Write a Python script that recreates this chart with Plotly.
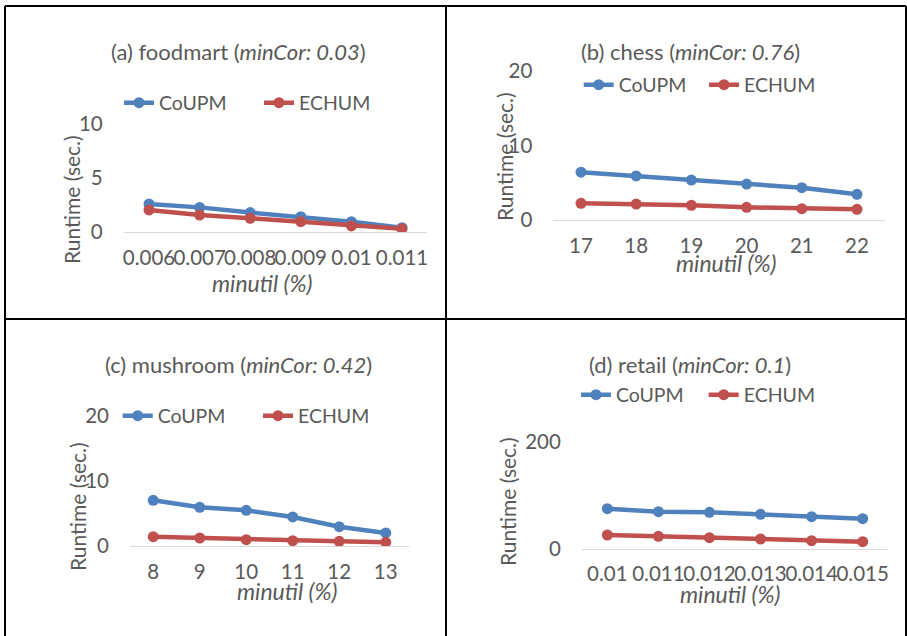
import plotly.graph_objects as go

W, H = 907, 636

# ---------------- data ----------------
cats_a = ["0.006", "0.007", "0.008", "0.009", "0.01", "0.011"]
coupm_a = [2.6, 2.28, 1.8, 1.42, 0.96, 0.4]
echum_a = [2.04, 1.57, 1.27, 0.96, 0.56, 0.31]

cats_b = ["17", "18", "19", "20", "21", "22"]
coupm_b = [6.4, 5.9, 5.35, 4.82, 4.33, 3.44]
echum_b = [2.23, 2.14, 1.96, 1.7, 1.52, 1.43]

cats_c = ["8", "9", "10", "11", "12", "13"]
coupm_c = [7.04, 5.97, 5.51, 4.49, 3.0, 2.04]
echum_c = [1.47, 1.27, 1.01, 0.86, 0.77, 0.61]

cats_d = ["0.01", "0.011", "0.012", "0.013", "0.014", "0.015"]
coupm_d = [75, 69.4, 68.2, 64.5, 60, 56.3]
echum_d = [25.7, 23.2, 20.7, 18.2, 15, 13.1]

titles = [
    "(a) foodmart (<i>minCor: 0.03</i>)",
    "(b) chess (<i>minCor: 0.76</i>)",
    "(c) mushroom (<i>minCor: 0.42</i>)",
    "(d) retail (<i>minCor: 0.1</i>)",
]
y_ranges = [[0, 10], [0, 20], [0, 20], [0, 200]]
y_ticks = [[0, 5, 10], [0, 10, 20], [0, 10, 20], [0, 200]]

BLUE = "#4F81BD"
RED = "#C0504D"
TXT = "#595959"
FONT = "Lato"
TICK_SIZE = 20.5
LEG_SIZE = 19.5
TITLE_SIZE = 22
YT_SIZE = 21
XT_SIZE = 23


def px_x(p):
    return p / W


def px_y(p):
    return 1 - p / H


# panel geometry in pixels: (x0, x1, ytop, ybottom)
panels = [
    (123.7, 427.3, 124, 232),
    (553.4, 884.6, 70.7, 220),
    (130, 409, 415.7, 546.3),
    (581.8, 888.2, 442, 548.7),
]
title_pos = [(238, 52), (690, 52), (238, 364), (690, 364)]
ytitle_pos = [(72, 200), (504, 157), (77, 507), (507, 502)]
xtitle_pos = [(262, 283), (726, 263), (287, 591), (730, 594)]
# (first marker x, y, spacing between entry markers)
legend_pos = [(140, 103, 138), (599.7, 85, 123.3), (138.7, 416, 138.3),
              (597, 395, 125.7)]

data = [
    (cats_a, coupm_a, echum_a),
    (cats_b, coupm_b, echum_b),
    (cats_c, coupm_c, echum_c),
    (cats_d, coupm_d, echum_d),
]

fig = go.Figure()
annotations = []
layout = {}

for i, (cats, cu, ec) in enumerate(data):
    n = "" if i == 0 else str(i + 1)
    lg = "legend" if i == 0 else "legend" + str(i + 1)
    for name, vals, col in (("CoUPM", cu, BLUE), ("ECHUM", ec, RED)):
        fig.add_trace(go.Scatter(
            x=cats, y=vals, name=name, mode="lines+markers",
            line=dict(color=col, width=4.5),
            marker=dict(color=col, size=11),
            xaxis="x" + n, yaxis="y" + n, legend=lg,
        ))
    x0, x1, yt, yb = panels[i]
    layout["xaxis" + n] = dict(
        domain=[px_x(x0), px_x(x1)], anchor="y" + n, type="category",
        range=[-0.5, 5.5], showgrid=False, zeroline=False, automargin=False,
        showline=True, linecolor="#D9D9D9", linewidth=1, ticks="",
        ticklabelstandoff=7, tickangle=0,
        tickfont=dict(family=FONT, size=TICK_SIZE, color=TXT),
    )
    layout["yaxis" + n] = dict(
        domain=[px_y(yb), px_y(yt)], anchor="x" + n, automargin=False,
        range=y_ranges[i], tickvals=y_ticks[i], showgrid=False,
        zeroline=False, showline=False, ticks="",
        ticklabelstandoff=20,
        tickfont=dict(family=FONT, size=TICK_SIZE, color=TXT),
    )
    mx, ly, sp = legend_pos[i]
    layout[lg] = dict(
        orientation="h", x=px_x(mx - 21), y=px_y(ly), xanchor="left",
        yanchor="middle", entrywidth=sp - 43, entrywidthmode="pixels",
        bgcolor="rgba(0,0,0,0)", borderwidth=0,
        font=dict(family=FONT, size=LEG_SIZE, color=TXT),
    )
    tx, ty = title_pos[i]
    annotations.append(dict(
        text=titles[i], x=px_x(tx), y=px_y(ty), xref="paper", yref="paper",
        showarrow=False, xanchor="center", yanchor="middle",
        font=dict(family=FONT, size=TITLE_SIZE, color=TXT)))
    ax, ay = ytitle_pos[i]
    annotations.append(dict(
        text="Runtime (sec.)", x=px_x(ax), y=px_y(ay), xref="paper",
        yref="paper", showarrow=False, textangle=-90, xanchor="center",
        yanchor="middle", font=dict(family=FONT, size=YT_SIZE, color=TXT)))
    bx, by = xtitle_pos[i]
    annotations.append(dict(
        text="<i>minutil (%)</i>", x=px_x(bx), y=px_y(by), xref="paper",
        yref="paper", showarrow=False, xanchor="center", yanchor="middle",
        font=dict(family=FONT, size=XT_SIZE, color=TXT)))

# panel borders
shapes = []
line = dict(color="black", width=2)
for (xa, ya, xb, yb) in [
    (5, 6, 906, 6),
    (5, 6, 5, 640),
    (906, 6, 906, 640),
    (446, 6, 446, 640),
    (5, 319, 906, 319),
]:
    shapes.append(dict(type="line", xref="paper", yref="paper",
                       x0=px_x(xa), y0=px_y(ya), x1=px_x(xb), y1=px_y(yb),
                       line=line))

fig.update_layout(
    width=W, height=H, margin=dict(l=0, r=0, t=0, b=0, autoexpand=False),
    paper_bgcolor="white", plot_bgcolor="white",
    annotations=annotations, shapes=shapes, **layout,
)

fig.write_html(
    "out.html",
    config={"displayModeBar": False},
    post_script=(
        "document.body.style.margin='0';"
        "document.body.style.overflow='hidden';"
    ),
)
